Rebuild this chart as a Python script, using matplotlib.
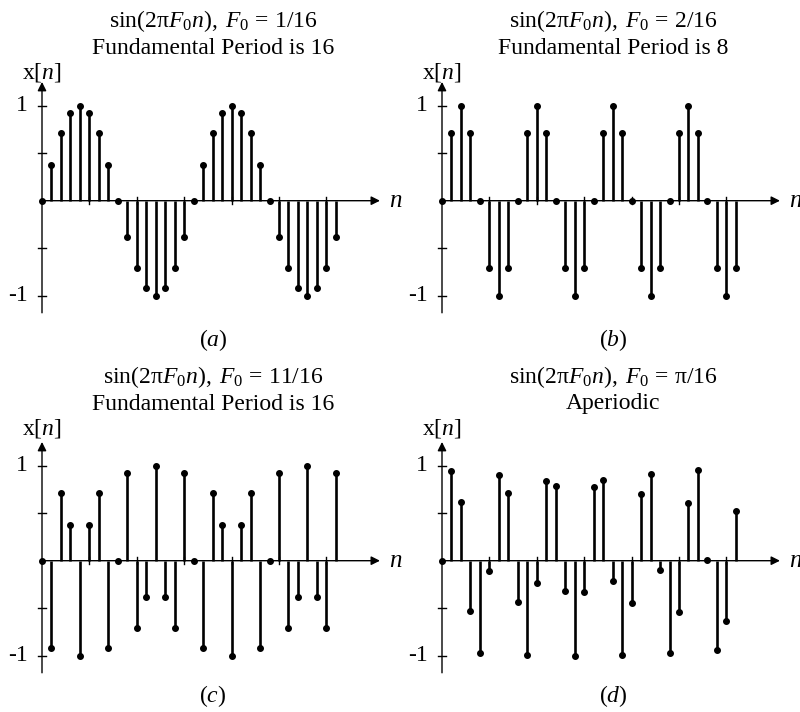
import matplotlib
matplotlib.use("Agg")
import matplotlib.pyplot as plt
import numpy as np

plt.rcParams['font.family'] = ['Liberation Serif', 'DejaVu Serif']
plt.rcParams['mathtext.fontset'] = 'custom'
plt.rcParams['mathtext.rm'] = 'Liberation Serif'
plt.rcParams['mathtext.it'] = 'Liberation Serif:italic'
plt.rcParams['mathtext.bf'] = 'Liberation Serif:bold'

n = list(range(32))

x_a = [0, 0.38, 0.71, 0.92, 1.0, 0.92, 0.71, 0.38, 0, -0.38, -0.71, -0.92, -1.0, -0.92, -0.71, -0.38,
       0, 0.38, 0.71, 0.92, 1.0, 0.92, 0.71, 0.38, 0, -0.38, -0.71, -0.92, -1.0, -0.92, -0.71, -0.38]
x_b = [0, 0.71, 1.0, 0.71, 0, -0.71, -1.0, -0.71, 0, 0.71, 1.0, 0.71, 0, -0.71, -1.0, -0.71,
       0, 0.71, 1.0, 0.71, 0, -0.71, -1.0, -0.71, 0, 0.71, 1.0, 0.71, 0, -0.71, -1.0, -0.71]
x_c = [0, -0.92, 0.71, 0.38, -1.0, 0.38, 0.71, -0.92, 0, 0.92, -0.71, -0.38, 1.0, -0.38, -0.71, 0.92,
       0, -0.92, 0.71, 0.38, -1.0, 0.38, 0.71, -0.92, 0, 0.92, -0.71, -0.38, 1.0, -0.38, -0.71, 0.92]
x_d = [0, 0.94, 0.62, -0.53, -0.97, -0.11, 0.90, 0.71, -0.43, -0.99, -0.23, 0.84, 0.79, -0.32, -1.0, -0.33,
       0.78, 0.85, -0.21, -0.99, -0.44, 0.70, 0.91, -0.10, -0.97, -0.54, 0.61, 0.95, 0.01, -0.94, -0.63, 0.52]

f0_labels = ["1/16", "2/16", "11/16", "π/16"]
titles2 = ["Fundamental Period is 16", "Fundamental Period is 8",
           "Fundamental Period is 16", "Aperiodic"]
labels = ["a", "b", "c", "d"]
series = [x_a, x_b, x_c, x_d]

W, H = 800, 712
fig = plt.figure(figsize=(8, 7.12), dpi=100)

# panel geometry in pixels: (L, T, R, B, x0, y0)
panels = [(0, 0, 400, 356, 42, 200.7),
          (400, 0, 800, 356, 442, 200.7),
          (0, 356, 400, 712, 42, 560.7),
          (400, 356, 800, 712, 442, 560.7)]
sx = 9.48
sy = 95.0

def fx(px):
    return px / W

def fy(py):
    return 1 - py / H

FS = 17

for i, (L, T, R, B, x0, y0) in enumerate(panels):
    ax = fig.add_axes([fx(L), fy(B), (R - L) / W, (B - T) / H])
    ax.set_xlim((L - x0) / sx, (R - x0) / sx)
    ax.set_ylim((y0 - B) / sy, (y0 - T) / sy)
    ax.axis('off')

    # axes with arrows
    ax.annotate('', xy=(35.65, 0), xytext=(0, 0),
                arrowprops=dict(arrowstyle='-|>', lw=1.0, color='k',
                                mutation_scale=13, shrinkA=0, shrinkB=0))
    ax.annotate('', xy=(0, 1.25), xytext=(0, -1.18),
                arrowprops=dict(arrowstyle='-|>', lw=1.0, color='k',
                                mutation_scale=13, shrinkA=0, shrinkB=0))
    for yt in [-1, -0.5, 0.5, 1]:
        ax.plot([-0.38, 0.38], [yt, yt], color='k', lw=1.0)
    for xt in [5, 10, 15, 20, 25, 30]:
        ax.plot([xt, xt], [-0.037, 0.037], color='k', lw=1.0)

    ml, sl, bl = ax.stem(n, series[i], linefmt='k-', markerfmt='ko', basefmt=' ')
    plt.setp(sl, linewidth=1.9)
    plt.setp(ml, markersize=4.0)

    ax.text(-1.5, 1, "1", ha='right', va='center', fontsize=FS)
    ax.text(-1.5, -1, "-1", ha='right', va='center', fontsize=FS)
    ax.text(36.6, 0, r"$\mathit{n}$", ha='left', va='center', fontsize=FS + 1)

    ax.text(0.0, (y0 - (T + 72)) / sy, r"$\mathrm{x[}\mathit{n}\mathrm{]}$",
            ha='center', va='center', fontsize=FS)

    title1 = (r"$\mathrm{sin(2π}\mathit{F}_{\mathrm{0}}\mathit{n}\mathrm{),}\;\mathit{F}_{\mathrm{0}}"
              r"\,\mathrm{=}\,\mathrm{" + f0_labels[i] + r"}$")
    cx = L + 213
    ax.text((cx - x0) / sx, (y0 - (T + 21)) / sy, title1,
            ha='center', va='center', fontsize=FS)
    ax.text((cx - x0) / sx, (y0 - (T + 48)) / sy, titles2[i],
            ha='center', va='center', fontsize=FS)
    ax.text((cx - x0) / sx, (y0 - (T + 340)) / sy,
            r"$\mathrm{(}\mathit{" + labels[i] + r"}\mathrm{)}$",
            ha='center', va='center', fontsize=FS)

fig.savefig("out.png", dpi=100)
